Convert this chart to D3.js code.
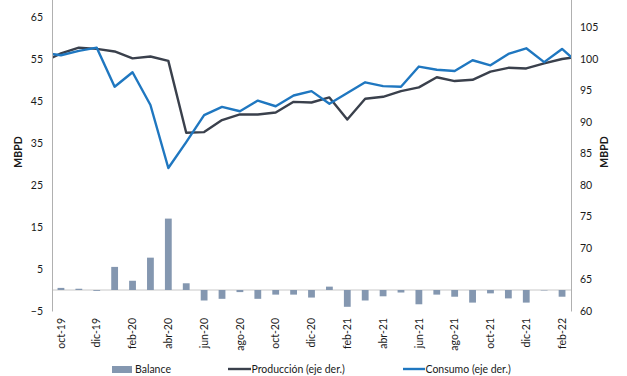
<!DOCTYPE html>
<html>
<head>
<meta charset="utf-8">
<script src="https://cdn.jsdelivr.net/npm/d3@7"></script>
<style>
  body { margin: 0; background: #fff; }
  text { font-family: Lato, "Open Sans", sans-serif; fill: #1a1a1a; }
</style>
</head>
<body>
<div id="chart"></div>
<script>
// Data (sep-19 and mar-22 only feed the clipped line ends)
const months = [
  "sep-19", "oct-19", "nov-19", "dic-19", "ene-20", "feb-20", "mar-20", "abr-20",
  "may-20", "jun-20", "jul-20", "ago-20", "sep-20", "oct-20", "nov-20", "dic-20",
  "ene-21", "feb-21", "mar-21", "abr-21", "may-21", "jun-21", "jul-21", "ago-21",
  "sep-21", "oct-21", "nov-21", "dic-21", "ene-22", "feb-22", "mar-22",
];
const balance = [
  null, 0.5, 0.3, -0.2, 5.5, 2.2, 7.7, 17.0, 1.6, -2.5, -2.1, -0.5, -2.1, -1.1, -1.1, -1.8,
  0.8, -4.0, -2.5, -1.5, -0.6, -3.4, -1.1, -1.6, -3.0, -0.8, -2.0, -3.0, -0.1, -1.6, null,
];
const produccion = [
  99.5, 100.9, 101.8, 101.6, 101.2, 100.1, 100.4, 99.7, 88.3, 88.4, 90.3, 91.2, 91.2, 91.5, 93.2, 93.1,
  93.9, 90.4, 93.7, 94.0, 94.9, 95.5, 97.1, 96.5, 96.7, 98.0, 98.6, 98.5, 99.3, 100.0, 100.4,
];
const consumo = [
  101.0, 100.6, 101.3, 101.8, 95.6, 97.9, 92.7, 82.7, 86.8, 91.1, 92.4, 91.7, 93.4, 92.5, 94.2, 94.9,
  92.9, 94.6, 96.3, 95.7, 95.6, 98.8, 98.3, 98.1, 99.8, 99.0, 100.8, 101.7, 99.5, 101.6, 99.1,
];
const leftTicks = [-5, 5, 15, 25, 35, 45, 55, 65];
const rightTicks = [60, 65, 70, 75, 80, 85, 90, 95, 100, 105];
const xTickLabels = months.filter((m, i) => i % 2 === 1 && i < months.length - 1);

const width = 627, height = 376;
const plot = { left: 52, right: 571, top: -4, bottom: 311 };
const step = (plot.right - plot.left) / (months.length - 2);

const svg = d3.select("#chart").append("svg")
  .attr("width", width)
  .attr("height", height);

// Scales
const x = d3.scaleBand()
  .domain(months)
  .range([plot.left - step, plot.right + step])
  .paddingInner(0.62)
  .paddingOuter(0.31);
const xc = (m) => x(m) + x.bandwidth() / 2;

const yL = d3.scaleLinear().domain([-5, 70]).range([plot.bottom, plot.top]);
const yR = d3.scaleLinear().domain([60, 110]).range([plot.bottom, plot.top]);

svg.append("clipPath").attr("id", "plotclip")
  .append("rect")
  .attr("x", plot.left).attr("y", plot.top)
  .attr("width", plot.right - plot.left)
  .attr("height", plot.bottom - plot.top);

// Zero line
svg.append("line")
  .attr("x1", plot.left).attr("x2", plot.right)
  .attr("y1", yL(0)).attr("y2", yL(0))
  .attr("stroke", "#c8c8c8");

// Bars
const barData = months.map((m, i) => ({ m, v: balance[i] })).filter((d) => d.v !== null);
svg.append("g").selectAll("rect")
  .data(barData)
  .enter()
  .append("rect")
  .attr("x", (d) => x(d.m))
  .attr("width", x.bandwidth())
  .attr("y", (d) => yL(Math.max(0, d.v)))
  .attr("height", (d) => Math.abs(yL(d.v) - yL(0)))
  .attr("fill", "#8497b0");

// Lines
const line = d3.line().x((d) => xc(d.m)).y((d) => yR(d.v));
const series = [
  { values: produccion, color: "#3a404c" },
  { values: consumo, color: "#1f77c0" },
];
const lg = svg.append("g").attr("clip-path", "url(#plotclip)");
series.forEach((s) => {
  lg.append("path")
    .datum(months.map((m, i) => ({ m, v: s.values[i] })))
    .attr("d", line)
    .attr("fill", "none")
    .attr("stroke", s.color)
    .attr("stroke-width", 2.4)
    .attr("stroke-linejoin", "round");
});

// Axes
const axL = svg.append("g")
  .attr("transform", `translate(${plot.left},0)`)
  .call(d3.axisLeft(yL).tickValues(leftTicks).tickSize(0).tickPadding(9));
const axR = svg.append("g")
  .attr("transform", `translate(${plot.right},0)`)
  .call(d3.axisRight(yR).tickValues(rightTicks).tickSize(0).tickPadding(9));
[axL, axR].forEach((a) => {
  a.select(".domain").attr("stroke", "#b0b0b0");
  a.selectAll("text").attr("font-size", 10.5).attr("font-family", "Lato, sans-serif").attr("fill", "#1a1a1a");
});

const axX = svg.append("g")
  .attr("transform", `translate(0,${plot.bottom})`)
  .call(d3.axisBottom(x).tickValues(xTickLabels).tickSize(0));
axX.select(".domain").remove();
axX.selectAll("text")
  .attr("font-size", 10.5)
  .attr("font-family", "Lato, sans-serif")
  .attr("fill", "#1a1a1a")
  .attr("text-anchor", "end")
  .attr("transform", "rotate(-90)")
  .attr("x", -7)
  .attr("y", 0)
  .attr("dy", "0.35em");

// Axis titles
svg.append("text")
  .attr("transform", "translate(22,152) rotate(-90)")
  .attr("text-anchor", "middle")
  .attr("font-size", 10.5)
  .attr("font-weight", "bold")
  .text("MBPD");
svg.append("text")
  .attr("transform", "translate(608,152) rotate(-90)")
  .attr("text-anchor", "middle")
  .attr("font-size", 10.5)
  .attr("font-weight", "bold")
  .text("MBPD");

// Legend
const legend = svg.append("g");
legend.append("rect")
  .attr("x", 112).attr("y", 366).attr("width", 20).attr("height", 7)
  .attr("fill", "#8497b0");
legend.append("text").attr("x", 135).attr("y", 373).attr("font-size", 10.5).text("Balance");
legend.append("line")
  .attr("x1", 228).attr("x2", 251).attr("y1", 369).attr("y2", 369)
  .attr("stroke", "#3a404c").attr("stroke-width", 2.4);
legend.append("text").attr("x", 251.5).attr("y", 373).attr("font-size", 10.5).text("Producción (eje der.)");
legend.append("line")
  .attr("x1", 403).attr("x2", 425).attr("y1", 369).attr("y2", 369)
  .attr("stroke", "#1f77c0").attr("stroke-width", 2.4);
legend.append("text").attr("x", 425.5).attr("y", 373).attr("font-size", 10.5).text("Consumo (eje der.)");
</script>
</body>
</html>
